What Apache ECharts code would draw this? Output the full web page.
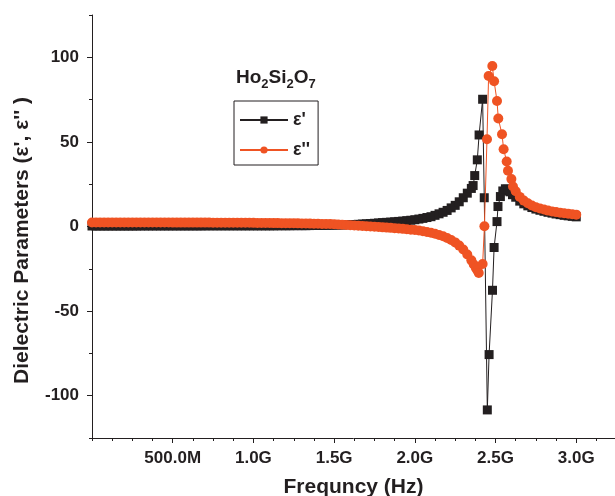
<!DOCTYPE html>
<html>
<head>
<meta charset="utf-8">
<script src="https://cdn.jsdelivr.net/npm/echarts@6/dist/echarts.min.js"></script>
<style>
	html, body{margin:0;padding:0;background:#fff;}
	#main{width:615px;height:496px;}
</style>
</head>
<body>
<div id="main"></div>
<script type="text/javascript">
	// frequency in GHz
	var freqLow = [0,0.025,0.05,0.075,0.1,0.125,0.15,0.175,0.2,0.225,0.25,0.275,0.3,0.325,0.35,0.375,0.4,0.425,0.45,0.475,
		0.5,0.525,0.55,0.575,0.6,0.625,0.65,0.675,0.7,0.725,0.75,0.775,0.8,0.825,0.85,0.875,0.9,0.925,0.95,0.975,
		1.0,1.025,1.05,1.075,1.1,1.125,1.15,1.175,1.2,1.225,1.25,1.275,1.3,1.325,1.35,1.375,1.4,1.425,1.45,1.475,
		1.5,1.525,1.55,1.575,1.6,1.625,1.65,1.675,1.7,1.725,1.75,1.775,1.8,1.825,1.85,1.875,1.9,1.925,1.95,1.975,
		2.0,2.025,2.05,2.075,2.1,2.125,2.15,2.175,2.2,2.225,2.25,2.275,2.3,2.325,2.35];
	var freqHigh = [2.625,2.65,2.675,2.7,2.725,2.75,2.775,2.8,2.825,2.85,2.875,2.9,2.925,2.95,2.975,3.0];

	// ε'
	var e1Low = [0.3,0.3,0.3,0.3,0.3,0.3,0.3,0.3,0.3,0.3,0.3,0.3,0.35,0.35,0.35,0.35,0.35,0.35,0.35,0.35,
		0.35,0.35,0.35,0.35,0.35,0.35,0.35,0.35,0.4,0.4,0.4,0.4,0.4,0.4,0.4,0.4,0.4,0.4,0.4,0.4,
		0.4,0.4,0.4,0.4,0.4,0.4,0.45,0.45,0.45,0.45,0.5,0.5,0.5,0.5,0.55,0.6,0.6,0.65,0.7,0.75,
		0.8,0.85,0.9,1.0,1.1,1.2,1.3,1.45,1.6,1.75,1.9,2.1,2.3,2.45,2.6,2.8,3.0,3.2,3.45,3.7,
		4.0,4.4,4.8,5.3,5.8,6.6,7.5,8.4,9.5,11.0,12.5,14.6,17.0,19.7,22.5];
	var e1ResFreq = [2.361,2.371,2.387,2.398,2.420,2.430,2.449,2.460,2.481,2.491,2.509,2.515,2.530,2.545,2.561,2.575,2.590,2.605];
	var e1Res = [24.2,30.1,39.4,54.1,75.2,17.0,-108.4,-75.7,-37.7,-12.4,2.9,11.8,17.7,21.0,22.3,22.0,20.5,18.8];
	var e1High = [17.3,15.0,13.4,12.2,11.2,10.3,9.6,9.0,8.4,7.9,7.4,7.0,6.6,6.3,6.0,5.7];

	// ε''
	var e2Low = [2.4,2.4,2.4,2.4,2.4,2.4,2.4,2.4,2.4,2.4,2.35,2.35,2.35,2.35,2.35,2.35,2.35,2.35,2.35,2.35,
		2.3,2.3,2.3,2.3,2.3,2.3,2.3,2.3,2.3,2.3,2.25,2.25,2.25,2.25,2.25,2.25,2.2,2.2,2.2,2.2,
		2.15,2.1,2.1,2.05,2.05,2.0,2.0,1.95,1.95,1.9,1.9,1.85,1.8,1.75,1.7,1.65,1.6,1.55,1.5,1.45,
		1.4,1.25,1.1,0.95,0.8,0.65,0.5,0.35,0.2,0.05,-0.1,-0.3,-0.5,-0.65,-0.8,-1.0,-1.2,-1.4,-1.6,-1.85,
		-2.1,-2.4,-2.8,-3.2,-3.7,-4.3,-5.0,-5.8,-6.8,-8.0,-9.4,-11.3,-13.6,-16.5,-20.0];
	var e2ResFreq = [2.365,2.378,2.388,2.396,2.420,2.431,2.447,2.457,2.480,2.491,2.509,2.517,2.540,2.550,2.569,2.577,2.598,2.608];
	var e2Res = [-22.5,-24.5,-26.0,-27.5,-22.2,0.2,51.6,89.0,94.9,85.8,74.2,63.8,54.5,45.7,38.4,33.0,28.0,23.6];
	var e2High = [20.8,17.5,15.3,13.7,12.4,11.4,10.6,10.0,9.4,8.9,8.5,8.1,7.8,7.5,7.2,7.0];

	var xTicks = [0.5,1.0,1.5,2.0,2.5,3.0];
	var xTickLabels = ['500.0M','1.0G','1.5G','2.0G','2.5G','3.0G'];
	var yTicks = [-100,-50,0,50,100];

	function pairs(f, v){
		return f.map(function(x, i){ return [x, v[i]]; });
	}
	var data1 = pairs(freqLow.concat(e1ResFreq, freqHigh), e1Low.concat(e1Res, e1High));
	var data2 = pairs(freqLow.concat(e2ResFreq, freqHigh), e2Low.concat(e2Res, e2High));

	var ink = '#231f20', orange = '#ef5323';
	var font = 'Liberation Sans, Arial, sans-serif';

	var myChart = echarts.init(document.getElementById('main'));
	option = {
	    animation: false,
	    backgroundColor: '#fff',
	    textStyle: {fontFamily: font},
	    grid: {left: 92, right: 0, top: 15, bottom: 58, outerBoundsMode: 'none'},
	    title: {
	        text: '{b|Ho}{s|2}{b|Si}{s|2}{b|O}{s|7}',
	        left: 236, top: 69,
	        padding: 0,
	        textStyle: {
	            rich: {
	                b: {fontSize: 19, fontWeight: 'bold', color: ink, fontFamily: font, verticalAlign: 'bottom', lineHeight: 22, padding: [0,0,4,0]},
	                s: {fontSize: 13, fontWeight: 'bold', color: ink, fontFamily: font, verticalAlign: 'bottom', lineHeight: 16}
	            }
	        }
	    },
	    legend: {
	        orient: 'vertical',
	        left: 234, top: 101,
	        padding: [10, 8, 6, 5],
	        itemGap: 12,
	        itemWidth: 48, itemHeight: 9,
	        itemTextGap: 3,
	        borderColor: ink, borderWidth: 1,
	        textStyle: {fontSize: 18, fontWeight: 'bold', color: ink, fontFamily: font},
	        data: ["ε'", "ε''"]
	    },
	    xAxis: [{
	        type: 'value', min: 0, max: 3.24, position: 'bottom',
	        name: 'Frequncy (Hz)', nameLocation: 'middle', nameGap: 39,
	        nameMoveOverlap: false,
	        nameTextStyle: {fontSize: 21, fontWeight: 'bold', color: ink, fontFamily: font},
	        axisLine: {onZero: false, lineStyle: {color: ink, width: 1}},
	        axisTick: {customValues: xTicks, length: 5, lineStyle: {color: ink}},
	        axisLabel: {
	            customValues: xTicks, margin: 12,
	            fontSize: 17, fontWeight: 'bold', color: ink, fontFamily: font,
	            formatter: function(v){ return xTickLabels[xTicks.indexOf(v)]; }
	        },
	        splitLine: {show: false}
	    },{
	        type: 'value', min: 0, max: 3.24, interval: 0.125, position: 'bottom',
	        axisLine: {show: false, onZero: false},
	        axisTick: {length: 3, lineStyle: {color: ink}},
	        axisLabel: {show: false},
	        splitLine: {show: false}
	    }],
	    yAxis: [{
	        type: 'value', min: -125, max: 125, position: 'left',
	        name: "Dielectric Parameters (ε', ε'' )", nameLocation: 'middle', nameGap: 59,
	        nameMoveOverlap: false,
	        nameTextStyle: {fontSize: 21, fontWeight: 'bold', color: ink, fontFamily: font, padding: [0, 28, 0, 0]},
	        axisLine: {show: true, onZero: false, lineStyle: {color: ink, width: 1}},
	        axisTick: {show: true, customValues: yTicks, length: 5, lineStyle: {color: ink}},
	        axisLabel: {customValues: yTicks, margin: 13, fontSize: 17, fontWeight: 'bold', color: ink, fontFamily: font},
	        splitLine: {show: false}
	    },{
	        type: 'value', min: -125, max: 125, interval: 25, position: 'left',
	        axisLine: {show: false, onZero: false},
	        axisTick: {show: true, length: 3, lineStyle: {color: ink}},
	        axisLabel: {show: false},
	        splitLine: {show: false}
	    }],
	    series: [{
	        name: "ε'",
	        type: 'line',
	        data: data1,
	        symbol: 'rect', symbolSize: 9,
	        showAllSymbol: true,
	        itemStyle: {color: ink},
	        lineStyle: {color: ink, width: 1},
	        z: 2
	    },{
	        name: "ε''",
	        type: 'line',
	        data: data2,
	        symbol: 'circle', symbolSize: 10,
	        showAllSymbol: true,
	        itemStyle: {color: orange},
	        lineStyle: {color: orange, width: 1},
	        z: 3
	    }]
	};
	myChart.setOption(option);
</script>
</body>
</html>
